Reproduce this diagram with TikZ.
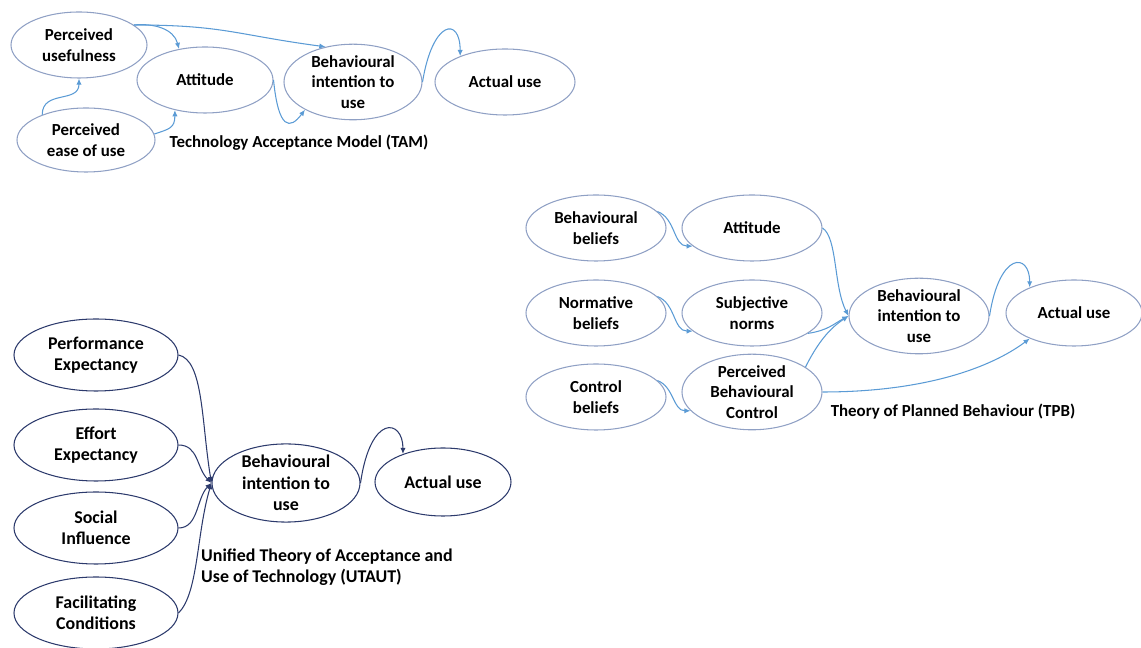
\documentclass[tikz,border=0pt]{standalone}
\usepackage{fontspec}
\setmainfont{Carlito}
\usetikzlibrary{shapes.geometric, arrows.meta, positioning}
\definecolor{ellgray}{RGB}{143,160,196}
\definecolor{linkblue}{RGB}{91,155,213}
\definecolor{navy}{RGB}{44,58,108}

\tikzset{
  ellbase/.style={ellipse, draw=ellgray, line width=0.6pt, inner sep=0pt, align=center,
    font=\bfseries\fontsize{9.6}{11.8}\selectfont},
  ell/.style 2 args={ellbase, minimum width=#1*0.2mm, minimum height=#2*0.2mm},
  uell/.style={draw=navy, font=\bfseries\fontsize{10.2}{12.1}\selectfont},
  modellabel/.style={font=\bfseries\fontsize{9.6}{11.8}\selectfont, align=left},
  link/.style={draw=linkblue, line width=0.6pt, -{Latex[length=3.5pt, width=3pt]}},
  ulink/.style={link, draw=navy}
}

\begin{document}
\begin{tikzpicture}[x=0.2mm, y=-0.2mm]
    \useasboundingbox (0,0) rectangle (1141,648);

    % TAM
    \node[ell={136}{66}] (tam-pu) at (79,45) {Perceived\\usefulness};
    \node[ell={136}{66}] (tam-att) at (205,80) {Attitude};
    \node[ell={138}{66}] (tam-bi) at (353,82) {Behavioural\\intention to\\use};
    \node[ell={140}{66}] (tam-au) at (505,82) {Actual use};
    \node[ell={138}{64}] (tam-peou) at (86,140) {Perceived\\ease of use};
    \node[modellabel] (tam-label) at (299,143) {Technology Acceptance Model (TAM)};

    \draw[link] (tam-pu.20) .. controls +(20,-2) and +(-5,-20) .. (tam-att.130);
    \draw[link] (tam-pu.20) .. controls +(90,0) and +(-90,-12) .. (tam-bi.128);
    \draw[link] (tam-peou.150) .. controls +(0,-25) and +(0,25) .. (tam-pu.south);
    \draw[link] (tam-peou.5) .. controls +(15,-5) and +(0,18) .. (tam-att.-135);
    \draw[link] (tam-att.east) .. controls +(5,50) and +(-15,20) .. (tam-bi.-150);
    \draw[link] (tam-bi.east) .. controls +(10,-62) and +(0,-40) .. (tam-au.150);

    % TPB
    \foreach \name/\ypos/\txt in {bb/228/{Behavioural\\beliefs}, nb/313/{Normative\\beliefs}, cb/397/{Control\\beliefs}} {
        \node[ell={140}{66}] (tpb-\name) at (596,\ypos) {\txt};
    }
    \foreach \name/\ypos/\txt in {att/228/{Attitude}, sn/313/{Subjective\\norms}, pbc/392/{Perceived\\Behavioural\\Control}} {
        \node[ell={140}{66}] (tpb-\name) at (752,\ypos) {\txt};
    }
    \node[ell={140}{66}] (tpb-bi) at (919,316) {Behavioural\\intention to\\use};
    \node[ell={136}{66}] (tpb-au) at (1074,313) {Actual use};
    \node[modellabel] (tpb-label) at (953,412) {Theory of Planned Behaviour (TPB)};

    \foreach \a/\b in {bb/att, nb/sn, cb/pbc} {
        \draw[link] (tpb-\a.15) to[out=-20, in=180] (tpb-\b.197);
    }
    \draw[link] (tpb-att.east) .. controls +(15,10) and +(-15,-30) .. (tpb-bi.west);
    \draw[link] (tpb-sn.-20) .. controls +(20,-3) and +(-15,8) .. (tpb-bi.west);
    \draw[link] (tpb-pbc.25) .. controls +(15,-30) and +(-15,10) .. (tpb-bi.west);
    \draw[link] (tpb-pbc.east) .. controls +(100,0) and +(-40,30) .. (tpb-au.-150);
    \draw[link] (tpb-bi.east) .. controls +(10,-65) and +(0,-35) .. (tpb-au.150);

    % UTAUT
    \foreach \name/\ypos/\txt in {pe/355/{Performance\\Expectancy}, ee/445/{Effort\\Expectancy}, si/528/{Social\\Influence}, fc/613/{Facilitating\\Conditions}} {
        \node[ell={164}{72}, uell] (utaut-\name) at (96,\ypos) {\txt};
    }
    \node[ell={148}{72}, uell] (utaut-bi) at (286,483) {Behavioural\\intention to\\use};
    \node[ell={136}{68}, uell] (utaut-au) at (443,482) {Actual use};
    \node[modellabel, uell, draw=none, anchor=west] (utaut-label) at (195,567) {Unified Theory of Acceptance and\\Use of Technology (UTAUT)};

    \draw[ulink] (utaut-pe.east) .. controls +(25,5) and +(-10,-60) .. (utaut-bi.west);
    \draw[ulink] (utaut-ee.east) .. controls +(20,0) and +(-15,-15) .. (utaut-bi.west);
    \draw[ulink] (utaut-si.east) .. controls +(20,0) and +(-15,15) .. (utaut-bi.west);
    \draw[ulink] (utaut-fc.east) .. controls +(20,-20) and +(-15,50) .. (utaut-bi.west);
    \draw[ulink] (utaut-bi.east) .. controls +(10,-70) and +(0,-35) .. (utaut-au.145);
\end{tikzpicture}
\end{document}
